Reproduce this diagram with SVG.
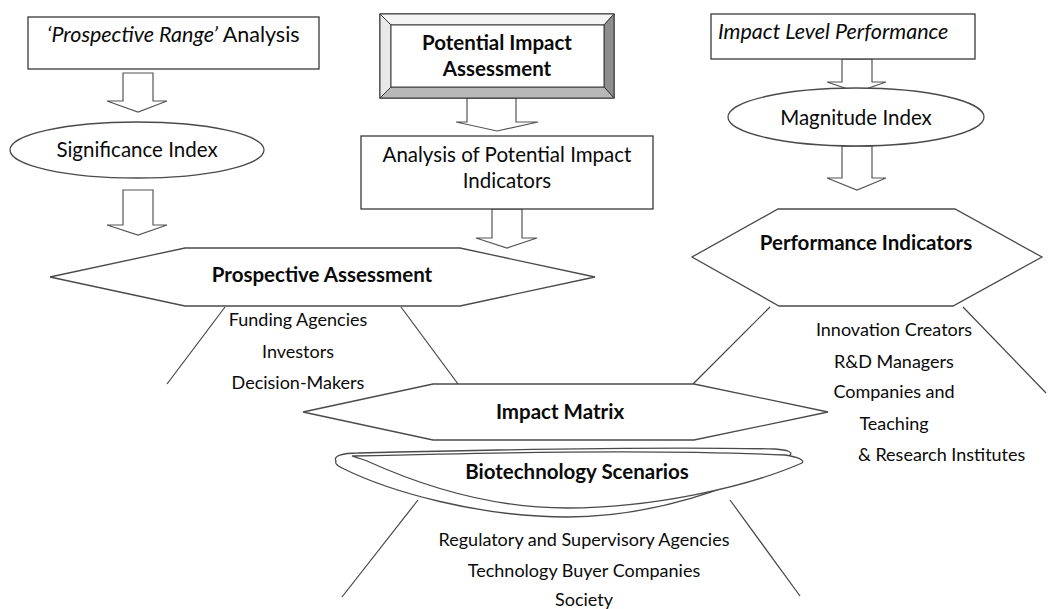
<svg xmlns="http://www.w3.org/2000/svg" width="1048" height="609" viewBox="0 0 1048 609">
  <style>
    .bg { fill: #ffffff; }
    .box { fill: #ffffff; stroke: #3a3a3a; stroke-width: 1.3; }
    .shape { fill: #ffffff; stroke: #4a4a4a; stroke-width: 1.3; }
    .arrow { fill: #ffffff; stroke: #555555; stroke-width: 1.2; stroke-linejoin: miter; }
    .link { stroke: #444444; stroke-width: 1.2; fill: none; }
    .t { font-family: Lato, "Open Sans", "Liberation Sans", sans-serif; fill: #0a0a0a; font-size: 18px; }
    .lg { font-size: 20.5px; }
    .xl { font-size: 21.5px; }
    .b { font-weight: bold; }
    .i { font-style: italic; }
    .c { text-anchor: middle; }
  </style>
  <rect class="bg" x="0" y="0" width="1048" height="609"/>

  <!-- Block arrows between stages -->
  <g id="connectors">
    <polygon class="arrow" points="123,73 153,73 153,101 167,101 138,112 107,101 123,101"/>
    <polygon class="arrow" points="123,190 153,190 153,225 167,225 138,235 107,225 123,225"/>
    <polygon class="arrow" points="467,98 516,98 516,122 538,122 497,131 456,122 467,122"/>
    <polygon class="arrow" points="492,209 522,209 522,238 537,238 507,248 476,238 492,238"/>
    <polygon class="arrow" points="842,59 872,59 872,82 886,82 857,92 827,82 842,82"/>
    <polygon class="arrow" points="842,146 872,146 872,178 886,178 857,190 827,178 842,178"/>
    <!-- stakeholder fan lines -->
    <line class="link" x1="225" y1="307" x2="167" y2="384"/>
    <line class="link" x1="401" y1="307" x2="458" y2="384"/>
    <line class="link" x1="770" y1="307" x2="693" y2="384"/>
    <line class="link" x1="963" y1="307" x2="1046" y2="393"/>
    <line class="link" x1="418" y1="500" x2="342" y2="597"/>
    <line class="link" x1="730" y1="500" x2="800" y2="596"/>
  </g>

  <g id="prospective-range">
    <rect class="box" x="28" y="17" width="291" height="52"/>
    <text class="t xl" x="47" y="42"><tspan class="i">‘Prospective Range’</tspan> Analysis</text>
  </g>

  <g id="significance-index">
    <ellipse class="shape" cx="137" cy="150" rx="127" ry="28"/>
    <text class="t lg c" x="137" y="157">Significance Index</text>
  </g>

  <g id="potential-impact-assessment">
    <rect x="380" y="14" width="234" height="84" fill="#ffffff" stroke="#3a3a3a" stroke-width="1.3"/>
    <polygon points="380,14 614,14 604,25 391,25" fill="#f4f4f4" stroke="#3a3a3a" stroke-width="1"/>
    <polygon points="380,14 391,25 391,87 380,98" fill="#e8e8e8" stroke="#3a3a3a" stroke-width="1"/>
    <polygon points="614,14 614,98 604,87 604,25" fill="#8e8e8e" stroke="#3a3a3a" stroke-width="1"/>
    <polygon points="380,98 391,87 604,87 614,98" fill="#b8b8b8" stroke="#3a3a3a" stroke-width="1"/>
    <rect x="391" y="25" width="213" height="62" fill="#ffffff" stroke="#3a3a3a" stroke-width="1"/>
    <text class="t lg b c" x="497" y="50">Potential Impact</text>
    <text class="t lg b c" x="497" y="76">Assessment</text>
  </g>

  <g id="potential-impact-indicators">
    <rect class="box" x="361" y="136" width="292" height="73"/>
    <text class="t lg c" x="507" y="162">Analysis of Potential Impact</text>
    <text class="t lg c" x="507" y="188">Indicators</text>
  </g>

  <g id="impact-level-performance">
    <rect class="box" x="711" y="14" width="264" height="45"/>
    <text class="t xl i" x="718" y="39">Impact Level Performance</text>
  </g>

  <g id="magnitude-index">
    <ellipse class="shape" cx="856" cy="117" rx="128" ry="29"/>
    <text class="t lg c" x="856" y="125">Magnitude Index</text>
  </g>

  <g id="prospective-assessment">
    <polygon class="shape" points="185,248 460,248 595,277 460,306 185,306 50,277"/>
    <text class="t lg b c" x="322" y="282">Prospective Assessment</text>
    <text class="t c" x="298" y="326">Funding Agencies</text>
    <text class="t c" x="298" y="358">Investors</text>
    <text class="t c" x="298" y="389">Decision-Makers</text>
  </g>

  <g id="performance-indicators">
    <polygon class="shape" points="778,209 955,209 1042,257 953,306 779,306 692,257"/>
    <text class="t lg b c" x="866" y="250">Performance Indicators</text>
    <text class="t c" x="894" y="336">Innovation Creators</text>
    <text class="t c" x="894" y="368">R&amp;D Managers</text>
    <text class="t c" x="894" y="398">Companies and</text>
    <text class="t c" x="894" y="430">Teaching</text>
    <text class="t" x="858" y="461">&amp; Research Institutes</text>
  </g>

  <g id="impact-matrix">
    <polygon class="shape" points="433,384 694,384 828,412 694,440 433,440 303,412"/>
    <text class="t lg b c" x="560" y="419">Impact Matrix</text>
  </g>

  <g id="biotechnology-scenarios">
    <path class="shape" d="M336,461 C333,456 342,453 358,453 C480,450 650,446 775,449 C788,450 793,452 790,455 C740,488 650,517 567,517 C480,517 390,492 342,468 C336,465 335,463 336,461 Z"/>
    <path class="shape" fill="none" d="M352,456 C480,453 650,449 785,455 C798,457 805,460 802,463 C745,488 650,508 567,508 C490,508 420,485 367,461 C360,458 354,457 352,456 Z"/>
    <text class="t lg b c" x="577" y="479">Biotechnology Scenarios</text>
    <text class="t c" x="584" y="546">Regulatory and Supervisory Agencies</text>
    <text class="t c" x="584" y="577">Technology Buyer Companies</text>
    <text class="t c" x="584" y="606">Society</text>
  </g>
</svg>
